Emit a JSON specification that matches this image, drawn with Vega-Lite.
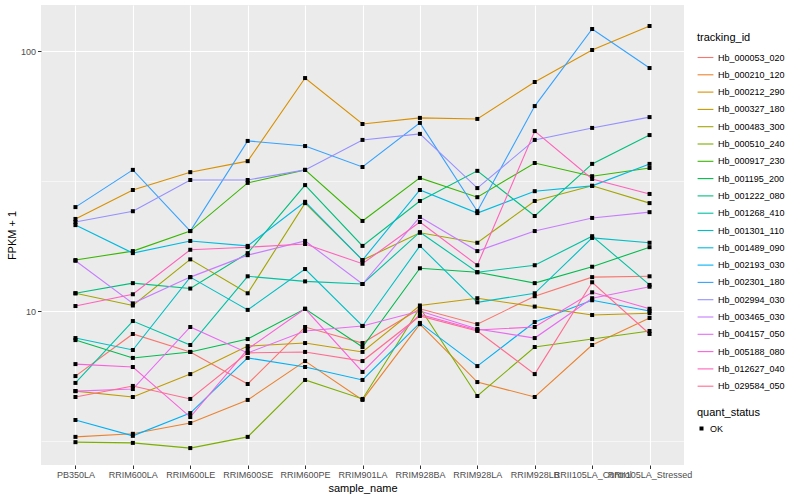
{
  "$schema": "https://vega.github.io/schema/vega-lite/v6.json",
  "width": 643,
  "height": 460,
  "padding": {"left": 6, "top": 5, "right": 5, "bottom": 5},
  "background": "white",
  "config": {
    "font": "Liberation Sans",
    "view": {"fill": "#EBEBEB", "stroke": null},
    "axis": {
      "domain": false,
      "gridColor": "white",
      "gridWidth": 1.1,
      "tickColor": "#333333",
      "tickSize": 3.5,
      "labelFontSize": 9,
      "labelColor": "#4D4D4D",
      "labelPadding": 2,
      "titleFontSize": 11,
      "titleFontWeight": "normal",
      "titleColor": "black"
    },
    "legend": {
      "titleFontSize": 11,
      "titleFontWeight": "normal",
      "titleColor": "black",
      "labelFontSize": 9,
      "labelColor": "black",
      "titlePadding": 6,
      "rowPadding": 3.3,
      "symbolSize": 250,
      "symbolStrokeWidth": 1.1
    }
  },
  "data": {"values": [
    {"tracking_id":"Hb_000053_020","sample_name":"PB350LA","fpkm":5.62,"quant_status":"OK"},
    {"tracking_id":"Hb_000053_020","sample_name":"RRIM600LA","fpkm":8.16,"quant_status":"OK"},
    {"tracking_id":"Hb_000053_020","sample_name":"RRIM600LE","fpkm":6.96,"quant_status":"OK"},
    {"tracking_id":"Hb_000053_020","sample_name":"RRIM600SE","fpkm":5.24,"quant_status":"OK"},
    {"tracking_id":"Hb_000053_020","sample_name":"RRIM600PE","fpkm":8.68,"quant_status":"OK"},
    {"tracking_id":"Hb_000053_020","sample_name":"RRIM901LA","fpkm":7.53,"quant_status":"OK"},
    {"tracking_id":"Hb_000053_020","sample_name":"RRIM928BA","fpkm":10.2,"quant_status":"OK"},
    {"tracking_id":"Hb_000053_020","sample_name":"RRIM928LA","fpkm":8.9,"quant_status":"OK"},
    {"tracking_id":"Hb_000053_020","sample_name":"RRIM928LB","fpkm":11.4,"quant_status":"OK"},
    {"tracking_id":"Hb_000053_020","sample_name":"RRII105LA_Control","fpkm":13.5,"quant_status":"OK"},
    {"tracking_id":"Hb_000053_020","sample_name":"RRII105LA_Stressed","fpkm":13.6,"quant_status":"OK"},

    {"tracking_id":"Hb_000210_120","sample_name":"PB350LA","fpkm":3.28,"quant_status":"OK"},
    {"tracking_id":"Hb_000210_120","sample_name":"RRIM600LA","fpkm":3.37,"quant_status":"OK"},
    {"tracking_id":"Hb_000210_120","sample_name":"RRIM600LE","fpkm":3.71,"quant_status":"OK"},
    {"tracking_id":"Hb_000210_120","sample_name":"RRIM600SE","fpkm":4.55,"quant_status":"OK"},
    {"tracking_id":"Hb_000210_120","sample_name":"RRIM600PE","fpkm":6.42,"quant_status":"OK"},
    {"tracking_id":"Hb_000210_120","sample_name":"RRIM901LA","fpkm":4.55,"quant_status":"OK"},
    {"tracking_id":"Hb_000210_120","sample_name":"RRIM928BA","fpkm":8.9,"quant_status":"OK"},
    {"tracking_id":"Hb_000210_120","sample_name":"RRIM928LA","fpkm":5.33,"quant_status":"OK"},
    {"tracking_id":"Hb_000210_120","sample_name":"RRIM928LB","fpkm":4.67,"quant_status":"OK"},
    {"tracking_id":"Hb_000210_120","sample_name":"RRII105LA_Control","fpkm":7.4,"quant_status":"OK"},
    {"tracking_id":"Hb_000210_120","sample_name":"RRII105LA_Stressed","fpkm":9.4,"quant_status":"OK"},

    {"tracking_id":"Hb_000212_290","sample_name":"PB350LA","fpkm":22.6,"quant_status":"OK"},
    {"tracking_id":"Hb_000212_290","sample_name":"RRIM600LA","fpkm":29.2,"quant_status":"OK"},
    {"tracking_id":"Hb_000212_290","sample_name":"RRIM600LE","fpkm":34.2,"quant_status":"OK"},
    {"tracking_id":"Hb_000212_290","sample_name":"RRIM600SE","fpkm":37.7,"quant_status":"OK"},
    {"tracking_id":"Hb_000212_290","sample_name":"RRIM600PE","fpkm":78.7,"quant_status":"OK"},
    {"tracking_id":"Hb_000212_290","sample_name":"RRIM901LA","fpkm":52.4,"quant_status":"OK"},
    {"tracking_id":"Hb_000212_290","sample_name":"RRIM928BA","fpkm":55.3,"quant_status":"OK"},
    {"tracking_id":"Hb_000212_290","sample_name":"RRIM928LA","fpkm":54.8,"quant_status":"OK"},
    {"tracking_id":"Hb_000212_290","sample_name":"RRIM928LB","fpkm":76.0,"quant_status":"OK"},
    {"tracking_id":"Hb_000212_290","sample_name":"RRII105LA_Control","fpkm":100.9,"quant_status":"OK"},
    {"tracking_id":"Hb_000212_290","sample_name":"RRII105LA_Stressed","fpkm":124.8,"quant_status":"OK"},

    {"tracking_id":"Hb_000327_180","sample_name":"PB350LA","fpkm":4.92,"quant_status":"OK"},
    {"tracking_id":"Hb_000327_180","sample_name":"RRIM600LA","fpkm":4.67,"quant_status":"OK"},
    {"tracking_id":"Hb_000327_180","sample_name":"RRIM600LE","fpkm":5.72,"quant_status":"OK"},
    {"tracking_id":"Hb_000327_180","sample_name":"RRIM600SE","fpkm":7.33,"quant_status":"OK"},
    {"tracking_id":"Hb_000327_180","sample_name":"RRIM600PE","fpkm":7.53,"quant_status":"OK"},
    {"tracking_id":"Hb_000327_180","sample_name":"RRIM901LA","fpkm":6.96,"quant_status":"OK"},
    {"tracking_id":"Hb_000327_180","sample_name":"RRIM928BA","fpkm":10.5,"quant_status":"OK"},
    {"tracking_id":"Hb_000327_180","sample_name":"RRIM928LA","fpkm":11.2,"quant_status":"OK"},
    {"tracking_id":"Hb_000327_180","sample_name":"RRIM928LB","fpkm":10.4,"quant_status":"OK"},
    {"tracking_id":"Hb_000327_180","sample_name":"RRII105LA_Control","fpkm":9.65,"quant_status":"OK"},
    {"tracking_id":"Hb_000327_180","sample_name":"RRII105LA_Stressed","fpkm":9.8,"quant_status":"OK"},

    {"tracking_id":"Hb_000483_300","sample_name":"PB350LA","fpkm":11.7,"quant_status":"OK"},
    {"tracking_id":"Hb_000483_300","sample_name":"RRIM600LA","fpkm":10.5,"quant_status":"OK"},
    {"tracking_id":"Hb_000483_300","sample_name":"RRIM600LE","fpkm":15.8,"quant_status":"OK"},
    {"tracking_id":"Hb_000483_300","sample_name":"RRIM600SE","fpkm":11.7,"quant_status":"OK"},
    {"tracking_id":"Hb_000483_300","sample_name":"RRIM600PE","fpkm":26.0,"quant_status":"OK"},
    {"tracking_id":"Hb_000483_300","sample_name":"RRIM901LA","fpkm":15.7,"quant_status":"OK"},
    {"tracking_id":"Hb_000483_300","sample_name":"RRIM928BA","fpkm":20.0,"quant_status":"OK"},
    {"tracking_id":"Hb_000483_300","sample_name":"RRIM928LA","fpkm":18.3,"quant_status":"OK"},
    {"tracking_id":"Hb_000483_300","sample_name":"RRIM928LB","fpkm":26.5,"quant_status":"OK"},
    {"tracking_id":"Hb_000483_300","sample_name":"RRII105LA_Control","fpkm":30.3,"quant_status":"OK"},
    {"tracking_id":"Hb_000483_300","sample_name":"RRII105LA_Stressed","fpkm":26.0,"quant_status":"OK"},

    {"tracking_id":"Hb_000510_240","sample_name":"PB350LA","fpkm":3.13,"quant_status":"OK"},
    {"tracking_id":"Hb_000510_240","sample_name":"RRIM600LA","fpkm":3.11,"quant_status":"OK"},
    {"tracking_id":"Hb_000510_240","sample_name":"RRIM600LE","fpkm":2.97,"quant_status":"OK"},
    {"tracking_id":"Hb_000510_240","sample_name":"RRIM600SE","fpkm":3.28,"quant_status":"OK"},
    {"tracking_id":"Hb_000510_240","sample_name":"RRIM600PE","fpkm":5.43,"quant_status":"OK"},
    {"tracking_id":"Hb_000510_240","sample_name":"RRIM901LA","fpkm":4.59,"quant_status":"OK"},
    {"tracking_id":"Hb_000510_240","sample_name":"RRIM928BA","fpkm":10.3,"quant_status":"OK"},
    {"tracking_id":"Hb_000510_240","sample_name":"RRIM928LA","fpkm":4.71,"quant_status":"OK"},
    {"tracking_id":"Hb_000510_240","sample_name":"RRIM928LB","fpkm":7.27,"quant_status":"OK"},
    {"tracking_id":"Hb_000510_240","sample_name":"RRII105LA_Control","fpkm":7.8,"quant_status":"OK"},
    {"tracking_id":"Hb_000510_240","sample_name":"RRII105LA_Stressed","fpkm":8.38,"quant_status":"OK"},

    {"tracking_id":"Hb_000917_230","sample_name":"PB350LA","fpkm":15.7,"quant_status":"OK"},
    {"tracking_id":"Hb_000917_230","sample_name":"RRIM600LA","fpkm":17.0,"quant_status":"OK"},
    {"tracking_id":"Hb_000917_230","sample_name":"RRIM600LE","fpkm":20.3,"quant_status":"OK"},
    {"tracking_id":"Hb_000917_230","sample_name":"RRIM600SE","fpkm":31.1,"quant_status":"OK"},
    {"tracking_id":"Hb_000917_230","sample_name":"RRIM600PE","fpkm":34.9,"quant_status":"OK"},
    {"tracking_id":"Hb_000917_230","sample_name":"RRIM901LA","fpkm":22.2,"quant_status":"OK"},
    {"tracking_id":"Hb_000917_230","sample_name":"RRIM928BA","fpkm":32.5,"quant_status":"OK"},
    {"tracking_id":"Hb_000917_230","sample_name":"RRIM928LA","fpkm":27.4,"quant_status":"OK"},
    {"tracking_id":"Hb_000917_230","sample_name":"RRIM928LB","fpkm":37.1,"quant_status":"OK"},
    {"tracking_id":"Hb_000917_230","sample_name":"RRII105LA_Control","fpkm":33.0,"quant_status":"OK"},
    {"tracking_id":"Hb_000917_230","sample_name":"RRII105LA_Stressed","fpkm":35.5,"quant_status":"OK"},

    {"tracking_id":"Hb_001195_200","sample_name":"PB350LA","fpkm":7.73,"quant_status":"OK"},
    {"tracking_id":"Hb_001195_200","sample_name":"RRIM600LA","fpkm":6.6,"quant_status":"OK"},
    {"tracking_id":"Hb_001195_200","sample_name":"RRIM600LE","fpkm":6.96,"quant_status":"OK"},
    {"tracking_id":"Hb_001195_200","sample_name":"RRIM600SE","fpkm":7.8,"quant_status":"OK"},
    {"tracking_id":"Hb_001195_200","sample_name":"RRIM600PE","fpkm":10.2,"quant_status":"OK"},
    {"tracking_id":"Hb_001195_200","sample_name":"RRIM901LA","fpkm":7.27,"quant_status":"OK"},
    {"tracking_id":"Hb_001195_200","sample_name":"RRIM928BA","fpkm":14.6,"quant_status":"OK"},
    {"tracking_id":"Hb_001195_200","sample_name":"RRIM928LA","fpkm":14.1,"quant_status":"OK"},
    {"tracking_id":"Hb_001195_200","sample_name":"RRIM928LB","fpkm":12.8,"quant_status":"OK"},
    {"tracking_id":"Hb_001195_200","sample_name":"RRII105LA_Control","fpkm":14.8,"quant_status":"OK"},
    {"tracking_id":"Hb_001195_200","sample_name":"RRII105LA_Stressed","fpkm":17.6,"quant_status":"OK"},

    {"tracking_id":"Hb_001222_080","sample_name":"PB350LA","fpkm":11.7,"quant_status":"OK"},
    {"tracking_id":"Hb_001222_080","sample_name":"RRIM600LA","fpkm":12.8,"quant_status":"OK"},
    {"tracking_id":"Hb_001222_080","sample_name":"RRIM600LE","fpkm":12.2,"quant_status":"OK"},
    {"tracking_id":"Hb_001222_080","sample_name":"RRIM600SE","fpkm":16.7,"quant_status":"OK"},
    {"tracking_id":"Hb_001222_080","sample_name":"RRIM600PE","fpkm":30.5,"quant_status":"OK"},
    {"tracking_id":"Hb_001222_080","sample_name":"RRIM901LA","fpkm":17.8,"quant_status":"OK"},
    {"tracking_id":"Hb_001222_080","sample_name":"RRIM928BA","fpkm":26.5,"quant_status":"OK"},
    {"tracking_id":"Hb_001222_080","sample_name":"RRIM928LA","fpkm":34.6,"quant_status":"OK"},
    {"tracking_id":"Hb_001222_080","sample_name":"RRIM928LB","fpkm":23.2,"quant_status":"OK"},
    {"tracking_id":"Hb_001222_080","sample_name":"RRII105LA_Control","fpkm":36.8,"quant_status":"OK"},
    {"tracking_id":"Hb_001222_080","sample_name":"RRII105LA_Stressed","fpkm":47.5,"quant_status":"OK"},

    {"tracking_id":"Hb_001268_410","sample_name":"PB350LA","fpkm":5.29,"quant_status":"OK"},
    {"tracking_id":"Hb_001268_410","sample_name":"RRIM600LA","fpkm":9.15,"quant_status":"OK"},
    {"tracking_id":"Hb_001268_410","sample_name":"RRIM600LE","fpkm":7.4,"quant_status":"OK"},
    {"tracking_id":"Hb_001268_410","sample_name":"RRIM600SE","fpkm":13.6,"quant_status":"OK"},
    {"tracking_id":"Hb_001268_410","sample_name":"RRIM600PE","fpkm":13.0,"quant_status":"OK"},
    {"tracking_id":"Hb_001268_410","sample_name":"RRIM901LA","fpkm":12.7,"quant_status":"OK"},
    {"tracking_id":"Hb_001268_410","sample_name":"RRIM928BA","fpkm":20.1,"quant_status":"OK"},
    {"tracking_id":"Hb_001268_410","sample_name":"RRIM928LA","fpkm":14.1,"quant_status":"OK"},
    {"tracking_id":"Hb_001268_410","sample_name":"RRIM928LB","fpkm":15.0,"quant_status":"OK"},
    {"tracking_id":"Hb_001268_410","sample_name":"RRII105LA_Control","fpkm":19.4,"quant_status":"OK"},
    {"tracking_id":"Hb_001268_410","sample_name":"RRII105LA_Stressed","fpkm":12.6,"quant_status":"OK"},

    {"tracking_id":"Hb_001301_110","sample_name":"PB350LA","fpkm":7.87,"quant_status":"OK"},
    {"tracking_id":"Hb_001301_110","sample_name":"RRIM600LA","fpkm":7.08,"quant_status":"OK"},
    {"tracking_id":"Hb_001301_110","sample_name":"RRIM600LE","fpkm":13.5,"quant_status":"OK"},
    {"tracking_id":"Hb_001301_110","sample_name":"RRIM600SE","fpkm":10.1,"quant_status":"OK"},
    {"tracking_id":"Hb_001301_110","sample_name":"RRIM600PE","fpkm":14.5,"quant_status":"OK"},
    {"tracking_id":"Hb_001301_110","sample_name":"RRIM901LA","fpkm":8.76,"quant_status":"OK"},
    {"tracking_id":"Hb_001301_110","sample_name":"RRIM928BA","fpkm":17.8,"quant_status":"OK"},
    {"tracking_id":"Hb_001301_110","sample_name":"RRIM928LA","fpkm":10.8,"quant_status":"OK"},
    {"tracking_id":"Hb_001301_110","sample_name":"RRIM928LB","fpkm":11.7,"quant_status":"OK"},
    {"tracking_id":"Hb_001301_110","sample_name":"RRII105LA_Control","fpkm":19.1,"quant_status":"OK"},
    {"tracking_id":"Hb_001301_110","sample_name":"RRII105LA_Stressed","fpkm":18.3,"quant_status":"OK"},

    {"tracking_id":"Hb_001489_090","sample_name":"PB350LA","fpkm":21.4,"quant_status":"OK"},
    {"tracking_id":"Hb_001489_090","sample_name":"RRIM600LA","fpkm":16.7,"quant_status":"OK"},
    {"tracking_id":"Hb_001489_090","sample_name":"RRIM600LE","fpkm":18.6,"quant_status":"OK"},
    {"tracking_id":"Hb_001489_090","sample_name":"RRIM600SE","fpkm":17.8,"quant_status":"OK"},
    {"tracking_id":"Hb_001489_090","sample_name":"RRIM600PE","fpkm":26.3,"quant_status":"OK"},
    {"tracking_id":"Hb_001489_090","sample_name":"RRIM901LA","fpkm":15.7,"quant_status":"OK"},
    {"tracking_id":"Hb_001489_090","sample_name":"RRIM928BA","fpkm":29.2,"quant_status":"OK"},
    {"tracking_id":"Hb_001489_090","sample_name":"RRIM928LA","fpkm":23.8,"quant_status":"OK"},
    {"tracking_id":"Hb_001489_090","sample_name":"RRIM928LB","fpkm":28.9,"quant_status":"OK"},
    {"tracking_id":"Hb_001489_090","sample_name":"RRII105LA_Control","fpkm":30.3,"quant_status":"OK"},
    {"tracking_id":"Hb_001489_090","sample_name":"RRII105LA_Stressed","fpkm":36.8,"quant_status":"OK"},

    {"tracking_id":"Hb_002193_030","sample_name":"PB350LA","fpkm":3.81,"quant_status":"OK"},
    {"tracking_id":"Hb_002193_030","sample_name":"RRIM600LA","fpkm":3.31,"quant_status":"OK"},
    {"tracking_id":"Hb_002193_030","sample_name":"RRIM600LE","fpkm":4.05,"quant_status":"OK"},
    {"tracking_id":"Hb_002193_030","sample_name":"RRIM600SE","fpkm":6.6,"quant_status":"OK"},
    {"tracking_id":"Hb_002193_030","sample_name":"RRIM600PE","fpkm":6.09,"quant_status":"OK"},
    {"tracking_id":"Hb_002193_030","sample_name":"RRIM901LA","fpkm":5.43,"quant_status":"OK"},
    {"tracking_id":"Hb_002193_030","sample_name":"RRIM928BA","fpkm":9.0,"quant_status":"OK"},
    {"tracking_id":"Hb_002193_030","sample_name":"RRIM928LA","fpkm":6.14,"quant_status":"OK"},
    {"tracking_id":"Hb_002193_030","sample_name":"RRIM928LB","fpkm":9.07,"quant_status":"OK"},
    {"tracking_id":"Hb_002193_030","sample_name":"RRII105LA_Control","fpkm":11.0,"quant_status":"OK"},
    {"tracking_id":"Hb_002193_030","sample_name":"RRII105LA_Stressed","fpkm":10.0,"quant_status":"OK"},

    {"tracking_id":"Hb_002301_180","sample_name":"PB350LA","fpkm":25.1,"quant_status":"OK"},
    {"tracking_id":"Hb_002301_180","sample_name":"RRIM600LA","fpkm":34.9,"quant_status":"OK"},
    {"tracking_id":"Hb_002301_180","sample_name":"RRIM600LE","fpkm":20.3,"quant_status":"OK"},
    {"tracking_id":"Hb_002301_180","sample_name":"RRIM600SE","fpkm":45.1,"quant_status":"OK"},
    {"tracking_id":"Hb_002301_180","sample_name":"RRIM600PE","fpkm":43.1,"quant_status":"OK"},
    {"tracking_id":"Hb_002301_180","sample_name":"RRIM901LA","fpkm":35.8,"quant_status":"OK"},
    {"tracking_id":"Hb_002301_180","sample_name":"RRIM928BA","fpkm":52.9,"quant_status":"OK"},
    {"tracking_id":"Hb_002301_180","sample_name":"RRIM928LA","fpkm":24.2,"quant_status":"OK"},
    {"tracking_id":"Hb_002301_180","sample_name":"RRIM928LB","fpkm":61.4,"quant_status":"OK"},
    {"tracking_id":"Hb_002301_180","sample_name":"RRII105LA_Control","fpkm":121.5,"quant_status":"OK"},
    {"tracking_id":"Hb_002301_180","sample_name":"RRII105LA_Stressed","fpkm":86.0,"quant_status":"OK"},

    {"tracking_id":"Hb_002994_030","sample_name":"PB350LA","fpkm":22.0,"quant_status":"OK"},
    {"tracking_id":"Hb_002994_030","sample_name":"RRIM600LA","fpkm":24.2,"quant_status":"OK"},
    {"tracking_id":"Hb_002994_030","sample_name":"RRIM600LE","fpkm":31.9,"quant_status":"OK"},
    {"tracking_id":"Hb_002994_030","sample_name":"RRIM600SE","fpkm":31.9,"quant_status":"OK"},
    {"tracking_id":"Hb_002994_030","sample_name":"RRIM600PE","fpkm":34.9,"quant_status":"OK"},
    {"tracking_id":"Hb_002994_030","sample_name":"RRIM901LA","fpkm":45.5,"quant_status":"OK"},
    {"tracking_id":"Hb_002994_030","sample_name":"RRIM928BA","fpkm":48.0,"quant_status":"OK"},
    {"tracking_id":"Hb_002994_030","sample_name":"RRIM928LA","fpkm":29.7,"quant_status":"OK"},
    {"tracking_id":"Hb_002994_030","sample_name":"RRIM928LB","fpkm":45.5,"quant_status":"OK"},
    {"tracking_id":"Hb_002994_030","sample_name":"RRII105LA_Control","fpkm":50.6,"quant_status":"OK"},
    {"tracking_id":"Hb_002994_030","sample_name":"RRII105LA_Stressed","fpkm":55.7,"quant_status":"OK"},

    {"tracking_id":"Hb_003465_030","sample_name":"PB350LA","fpkm":15.6,"quant_status":"OK"},
    {"tracking_id":"Hb_003465_030","sample_name":"RRIM600LA","fpkm":10.7,"quant_status":"OK"},
    {"tracking_id":"Hb_003465_030","sample_name":"RRIM600LE","fpkm":13.5,"quant_status":"OK"},
    {"tracking_id":"Hb_003465_030","sample_name":"RRIM600SE","fpkm":16.4,"quant_status":"OK"},
    {"tracking_id":"Hb_003465_030","sample_name":"RRIM600PE","fpkm":18.6,"quant_status":"OK"},
    {"tracking_id":"Hb_003465_030","sample_name":"RRIM901LA","fpkm":12.7,"quant_status":"OK"},
    {"tracking_id":"Hb_003465_030","sample_name":"RRIM928BA","fpkm":23.0,"quant_status":"OK"},
    {"tracking_id":"Hb_003465_030","sample_name":"RRIM928LA","fpkm":17.0,"quant_status":"OK"},
    {"tracking_id":"Hb_003465_030","sample_name":"RRIM928LB","fpkm":20.3,"quant_status":"OK"},
    {"tracking_id":"Hb_003465_030","sample_name":"RRII105LA_Control","fpkm":22.8,"quant_status":"OK"},
    {"tracking_id":"Hb_003465_030","sample_name":"RRII105LA_Stressed","fpkm":24.0,"quant_status":"OK"},

    {"tracking_id":"Hb_004157_050","sample_name":"PB350LA","fpkm":4.92,"quant_status":"OK"},
    {"tracking_id":"Hb_004157_050","sample_name":"RRIM600LA","fpkm":5.01,"quant_status":"OK"},
    {"tracking_id":"Hb_004157_050","sample_name":"RRIM600LE","fpkm":8.68,"quant_status":"OK"},
    {"tracking_id":"Hb_004157_050","sample_name":"RRIM600SE","fpkm":6.9,"quant_status":"OK"},
    {"tracking_id":"Hb_004157_050","sample_name":"RRIM600PE","fpkm":8.38,"quant_status":"OK"},
    {"tracking_id":"Hb_004157_050","sample_name":"RRIM901LA","fpkm":8.76,"quant_status":"OK"},
    {"tracking_id":"Hb_004157_050","sample_name":"RRIM928BA","fpkm":10.0,"quant_status":"OK"},
    {"tracking_id":"Hb_004157_050","sample_name":"RRIM928LA","fpkm":8.53,"quant_status":"OK"},
    {"tracking_id":"Hb_004157_050","sample_name":"RRIM928LB","fpkm":7.87,"quant_status":"OK"},
    {"tracking_id":"Hb_004157_050","sample_name":"RRII105LA_Control","fpkm":11.2,"quant_status":"OK"},
    {"tracking_id":"Hb_004157_050","sample_name":"RRII105LA_Stressed","fpkm":12.4,"quant_status":"OK"},

    {"tracking_id":"Hb_005188_080","sample_name":"PB350LA","fpkm":6.25,"quant_status":"OK"},
    {"tracking_id":"Hb_005188_080","sample_name":"RRIM600LA","fpkm":6.09,"quant_status":"OK"},
    {"tracking_id":"Hb_005188_080","sample_name":"RRIM600LE","fpkm":3.91,"quant_status":"OK"},
    {"tracking_id":"Hb_005188_080","sample_name":"RRIM600SE","fpkm":7.14,"quant_status":"OK"},
    {"tracking_id":"Hb_005188_080","sample_name":"RRIM600PE","fpkm":10.2,"quant_status":"OK"},
    {"tracking_id":"Hb_005188_080","sample_name":"RRIM901LA","fpkm":5.83,"quant_status":"OK"},
    {"tracking_id":"Hb_005188_080","sample_name":"RRIM928BA","fpkm":9.7,"quant_status":"OK"},
    {"tracking_id":"Hb_005188_080","sample_name":"RRIM928LA","fpkm":8.45,"quant_status":"OK"},
    {"tracking_id":"Hb_005188_080","sample_name":"RRIM928LB","fpkm":8.68,"quant_status":"OK"},
    {"tracking_id":"Hb_005188_080","sample_name":"RRII105LA_Control","fpkm":11.8,"quant_status":"OK"},
    {"tracking_id":"Hb_005188_080","sample_name":"RRII105LA_Stressed","fpkm":10.2,"quant_status":"OK"},

    {"tracking_id":"Hb_012627_040","sample_name":"PB350LA","fpkm":10.45,"quant_status":"OK"},
    {"tracking_id":"Hb_012627_040","sample_name":"RRIM600LA","fpkm":11.6,"quant_status":"OK"},
    {"tracking_id":"Hb_012627_040","sample_name":"RRIM600LE","fpkm":17.2,"quant_status":"OK"},
    {"tracking_id":"Hb_012627_040","sample_name":"RRIM600SE","fpkm":17.6,"quant_status":"OK"},
    {"tracking_id":"Hb_012627_040","sample_name":"RRIM600PE","fpkm":18.1,"quant_status":"OK"},
    {"tracking_id":"Hb_012627_040","sample_name":"RRIM901LA","fpkm":15.2,"quant_status":"OK"},
    {"tracking_id":"Hb_012627_040","sample_name":"RRIM928BA","fpkm":22.0,"quant_status":"OK"},
    {"tracking_id":"Hb_012627_040","sample_name":"RRIM928LA","fpkm":15.0,"quant_status":"OK"},
    {"tracking_id":"Hb_012627_040","sample_name":"RRIM928LB","fpkm":49.2,"quant_status":"OK"},
    {"tracking_id":"Hb_012627_040","sample_name":"RRII105LA_Control","fpkm":32.2,"quant_status":"OK"},
    {"tracking_id":"Hb_012627_040","sample_name":"RRII105LA_Stressed","fpkm":28.2,"quant_status":"OK"},

    {"tracking_id":"Hb_029584_050","sample_name":"PB350LA","fpkm":4.67,"quant_status":"OK"},
    {"tracking_id":"Hb_029584_050","sample_name":"RRIM600LA","fpkm":5.15,"quant_status":"OK"},
    {"tracking_id":"Hb_029584_050","sample_name":"RRIM600LE","fpkm":4.59,"quant_status":"OK"},
    {"tracking_id":"Hb_029584_050","sample_name":"RRIM600SE","fpkm":6.9,"quant_status":"OK"},
    {"tracking_id":"Hb_029584_050","sample_name":"RRIM600PE","fpkm":6.96,"quant_status":"OK"},
    {"tracking_id":"Hb_029584_050","sample_name":"RRIM901LA","fpkm":6.42,"quant_status":"OK"},
    {"tracking_id":"Hb_029584_050","sample_name":"RRIM928BA","fpkm":9.57,"quant_status":"OK"},
    {"tracking_id":"Hb_029584_050","sample_name":"RRIM928LA","fpkm":8.38,"quant_status":"OK"},
    {"tracking_id":"Hb_029584_050","sample_name":"RRIM928LB","fpkm":5.72,"quant_status":"OK"},
    {"tracking_id":"Hb_029584_050","sample_name":"RRII105LA_Control","fpkm":12.9,"quant_status":"OK"},
    {"tracking_id":"Hb_029584_050","sample_name":"RRII105LA_Stressed","fpkm":8.16,"quant_status":"OK"}
  ]},
  "encoding": {
    "x": {
      "field": "sample_name",
      "type": "ordinal",
      "sort": ["PB350LA","RRIM600LA","RRIM600LE","RRIM600SE","RRIM600PE","RRIM901LA","RRIM928BA","RRIM928LA","RRIM928LB","RRII105LA_Control","RRII105LA_Stressed"],
      "scale": {"type": "point", "padding": 0.6},
      "axis": {"title": "sample_name", "labelAngle": 0, "labelOverlap": false, "labelBound": false, "grid": true, "titlePadding": 3}
    },
    "y": {
      "field": "fpkm",
      "type": "quantitative",
      "scale": {"type": "log", "domain": [2.557, 150.3], "nice": false},
      "axis": {
        "title": "FPKM + 1",
        "values": [3.1623, 10, 31.623, 100],
        "format": "d",
        "labelExpr": "(datum.value > 9 && datum.value < 11) || (datum.value > 90 && datum.value < 110) ? datum.label : ''",
        "gridWidth": {"condition": {"test": "(datum.value > 9 && datum.value < 11) || (datum.value > 90 && datum.value < 110)", "value": 1.1}, "value": 0.55},
        "tickOpacity": {"condition": {"test": "(datum.value > 9 && datum.value < 11) || (datum.value > 90 && datum.value < 110)", "value": 1}, "value": 0},
        "titlePadding": 2.5
      }
    }
  },
  "layer": [
    {
      "mark": {"type": "line", "strokeWidth": 1.1},
      "encoding": {
        "color": {
          "field": "tracking_id",
          "type": "nominal",
          "scale": {
            "domain": ["Hb_000053_020","Hb_000210_120","Hb_000212_290","Hb_000327_180","Hb_000483_300","Hb_000510_240","Hb_000917_230","Hb_001195_200","Hb_001222_080","Hb_001268_410","Hb_001301_110","Hb_001489_090","Hb_002193_030","Hb_002301_180","Hb_002994_030","Hb_003465_030","Hb_004157_050","Hb_005188_080","Hb_012627_040","Hb_029584_050"],
            "range": ["#F8766D","#EA8331","#D89000","#C09B00","#A3A500","#7CAE00","#39B600","#00BB4E","#00BF7D","#00C1A3","#00BFC4","#00BAE0","#00B0F6","#35A2FF","#9590FF","#C77CFF","#E76BF3","#FA62DB","#FF62BC","#FF6C90"]
          },
          "legend": {
            "title": "tracking_id",
            "symbolType": "stroke",
            "orient": "none",
            "legendX": 656,
            "legendY": 27,
            "encode": {"symbols": {"update": {"stroke": {"scale": "color", "field": "value"}, "strokeWidth": {"value": 1.1}}}}
          }
        }
      }
    },
    {
      "mark": {"type": "point", "shape": "square", "filled": true, "color": "black", "opacity": 1, "size": 16},
      "encoding": {
        "shape": {
          "field": "quant_status",
          "type": "nominal",
          "scale": {"range": ["square"]},
          "legend": {"title": "quant_status", "symbolSize": 16, "symbolFillColor": "black", "orient": "none", "legendX": 656, "legendY": 402}
        }
      }
    }
  ]
}
